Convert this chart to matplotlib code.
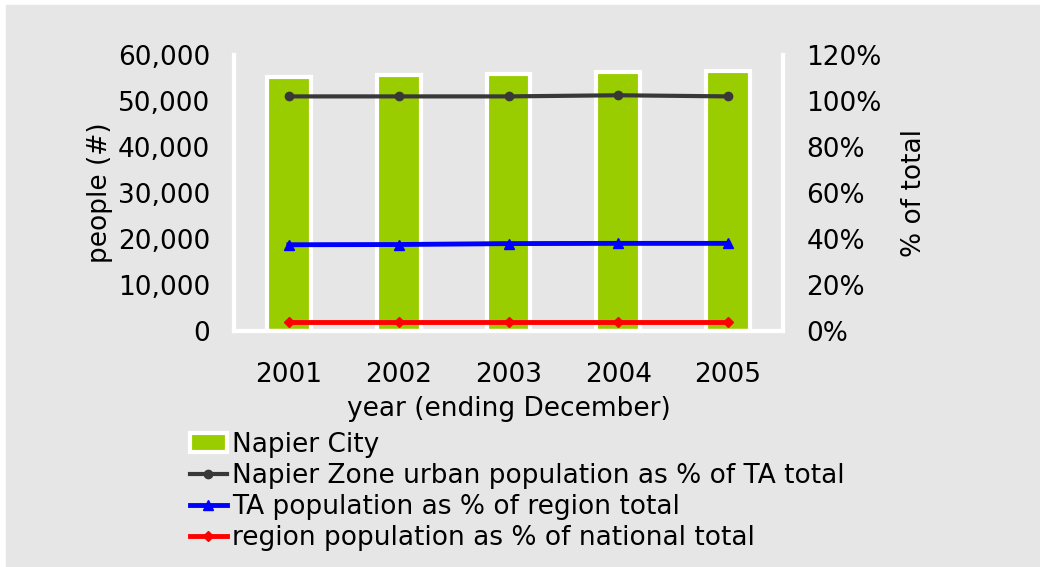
import numpy as np
import matplotlib.pyplot as plt
from matplotlib.patches import Rectangle
from matplotlib.ticker import FuncFormatter

# ==================================================
YEARS = ["2001", "2002", "2003", "2004", "2005"]
NAPIER_CITY = [55200, 55650, 55950, 56250, 56450]         # people
URBAN_PCT_TA = [102.0, 102.0, 102.0, 102.5, 102.0]        # % of TA total
TA_PCT_REGION = [37.5, 37.6, 38.0, 38.1, 38.1]            # % of region total
REGION_PCT_NAT = [4.0, 4.0, 4.0, 4.0, 4.0]                # % of national total
LABELS = ["Napier City",
          "Napier Zone urban population as % of TA total",
          "TA population as % of region total",
          "region population as % of national total"]
GREEN, GREY_BG = "#9acd00", "#e6e6e6"
FS = 19
# ==================================================

plt.rcParams["font.family"] = ["DejaVu Sans"]

fig = plt.figure(figsize=(10.4, 5.67), dpi=100, facecolor="white")
fig.patches.append(Rectangle((6 / 1040, 0), 1 - 6 / 1040, 1 - 5 / 567,
                             transform=fig.transFigure, color=GREY_BG, zorder=-10))

ax = fig.add_axes([234 / 1040, 1 - 331 / 567, 549 / 1040, 276 / 567])
ax.set_facecolor(GREY_BG)
x = np.arange(len(YEARS))
bars = ax.bar(x, NAPIER_CITY, width=0.4, color=GREEN, edgecolor="white", lw=3,
              label=LABELS[0], zorder=2)
ax.set_xlim(-0.5, len(YEARS) - 0.5)
ax.set_ylim(0, 60000)
ax.set_yticks(np.arange(0, 60001, 10000))
ax.yaxis.set_major_formatter(FuncFormatter(lambda v, p: f"{v:,.0f}"))
ax.set_xticks(x, YEARS)

ax2 = ax.twinx()
ax2.set_ylim(0, 120)
ax2.set_yticks(np.arange(0, 121, 20))
ax2.yaxis.set_major_formatter(FuncFormatter(lambda v, p: f"{v:.0f}%"))
l1, = ax2.plot(x, URBAN_PCT_TA, color="#383838", lw=3, marker="o", ms=6,
               label=LABELS[1], zorder=3)
l2, = ax2.plot(x, TA_PCT_REGION, color="#0000ff", lw=3.5, marker="^", ms=7,
               label=LABELS[2], zorder=3)
l3, = ax2.plot(x, REGION_PCT_NAT, color="#ff0000", lw=3.5, marker="D", ms=5,
               label=LABELS[3], zorder=3)

for a in (ax, ax2):
    for s in a.spines.values():
        s.set_color("white"); s.set_linewidth(3)
    a.spines["top"].set_visible(False)
    a.tick_params(length=0, labelsize=FS, pad=17)
ax.tick_params(axis="x", pad=22)

ax.set_xlabel("year (ending December)", fontsize=FS, labelpad=6)
ax.set_ylabel("people (#)", fontsize=FS, labelpad=4)
ax2.set_ylabel("% of total", fontsize=FS, labelpad=14)

fig.legend([bars, l1, l2, l3], LABELS, loc="upper left",
           bbox_to_anchor=(179 / 1040, 1 - 421 / 567), frameon=False,
           fontsize=FS, handlelength=1.4, handletextpad=0.2,
           labelspacing=0.2, borderaxespad=0)

fig.savefig("out.png", dpi=100, facecolor=fig.get_facecolor())
